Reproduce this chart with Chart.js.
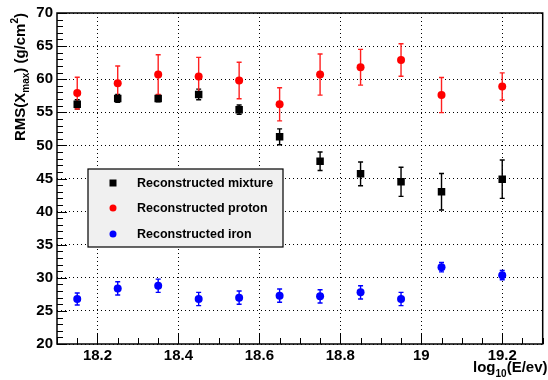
<!DOCTYPE html>
<html>
<head>
<meta charset="utf-8">
<script src="https://cdn.jsdelivr.net/npm/chart.js@4.4.0/dist/chart.umd.min.js"></script>
<style>
html, body { margin: 0; padding: 0; background: #fff; }
canvas { display: block; }
</style>
</head>
<body>
<canvas id="rmsChart" width="548" height="380"></canvas>
<script>
// values
var energies = [18.15, 18.25, 18.35, 18.45, 18.55, 18.65, 18.75, 18.85, 18.95, 19.05, 19.2];
var mixture = [56.2, 57.1, 57.1, 57.7, 55.4, 51.3, 47.6, 45.7, 44.5, 43.0, 44.9];
var mixtureErr = [0.7, 0.6, 0.5, 0.8, 0.7, 1.2, 1.4, 1.8, 2.2, 2.75, 2.9];
var proton = [57.9, 59.4, 60.7, 60.4, 59.8, 56.2, 60.7, 61.8, 62.9, 57.6, 58.9];
var protonErr = [2.4, 2.6, 3.0, 2.9, 2.75, 2.5, 3.1, 2.7, 2.45, 2.65, 2.05];
var iron = [26.8, 28.4, 28.8, 26.8, 27.0, 27.3, 27.2, 27.8, 26.8, 31.6, 30.4];
var ironErr = [0.9, 1.0, 1.0, 1.0, 1.0, 1.0, 1.0, 1.0, 1.0, 0.7, 0.7];
var seriesLabels = ['Reconstructed mixture', 'Reconstructed proton', 'Reconstructed iron'];
var xTicks = [18.2, 18.4, 18.6, 18.8, 19, 19.2];
var yTicks = [20, 25, 30, 35, 40, 45, 50, 55, 60, 65, 70];

var FONT = '"Liberation Sans", Arial, Helvetica, sans-serif';

function points(values) {
    return energies.map(function (e, i) { return { x: e, y: values[i] }; });
}

// error bars, drawn under the markers
var errorBars = {
    id: 'errorBars',
    beforeDatasetsDraw: function (chart) {
        var ctx = chart.ctx;
        var xs = chart.scales.x, ys = chart.scales.y;
        chart.data.datasets.forEach(function (ds) {
            ctx.save();
            ctx.strokeStyle = ds.barColor;
            ctx.lineWidth = 1.4;
            ds.data.forEach(function (p, i) {
                var e = ds.errors[i];
                var x = xs.getPixelForValue(p.x);
                var y1 = ys.getPixelForValue(p.y + e);
                var y2 = ys.getPixelForValue(p.y - e);
                ctx.beginPath();
                ctx.moveTo(x, y1); ctx.lineTo(x, y2);
                ctx.moveTo(x - 2.5, y1); ctx.lineTo(x + 2.5, y1);
                ctx.moveTo(x - 2.5, y2); ctx.lineTo(x + 2.5, y2);
                ctx.stroke();
            });
            ctx.restore();
        });
    }
};

// ROOT style frame, inward ticks, axis titles and legend box
var rootFrame = {
    id: 'rootFrame',
    afterDraw: function (chart) {
        var ctx = chart.ctx;
        var a = chart.chartArea;
        var xs = chart.scales.x, ys = chart.scales.y;
        ctx.save();
        ctx.strokeStyle = '#000';
        ctx.lineWidth = 1;
        ctx.beginPath();
        var v, px, major;
        for (v = 20; v <= 70; v += 1) {
            px = Math.round(ys.getPixelForValue(v)) + 0.5;
            major = v % 5 === 0;
            ctx.moveTo(a.left, px);
            ctx.lineTo(a.left + (major ? 10 : 6), px);
        }
        for (var k = 0; k <= 24; k++) {
            v = 18.1 + k * 0.05;
            px = Math.round(xs.getPixelForValue(v)) + 0.5;
            major = k % 4 === 2;
            ctx.moveTo(px, a.bottom);
            ctx.lineTo(px, a.bottom - (major ? 10 : 6));
        }
        ctx.stroke();

        ctx.lineWidth = 1.5;
        ctx.strokeRect(a.left, a.top, a.right - a.left, a.bottom - a.top);

        // y title
        ctx.fillStyle = '#000';
        ctx.textBaseline = 'alphabetic';
        var big = 'bold 15px ' + FONT, small = 'bold 10px ' + FONT;
        var parts = [['RMS(X', big, 0], ['max', small, 4], [') (g/cm', big, 0], ['2', small, -7], [')', big, 0]];
        var total = 0;
        parts.forEach(function (p) { ctx.font = p[1]; total += ctx.measureText(p[0]).width; });
        ctx.save();
        ctx.translate(24.5, a.top + total);
        ctx.rotate(-Math.PI / 2);
        var cx = 0;
        parts.forEach(function (p) {
            ctx.font = p[1];
            ctx.fillText(p[0], cx, p[2]);
            cx += ctx.measureText(p[0]).width;
        });
        ctx.restore();

        // x title
        var xparts = [['log', big, 0], ['10', small, 5], ['(E/ev)', big, 0]];
        total = 0;
        xparts.forEach(function (p) { ctx.font = p[1]; total += ctx.measureText(p[0]).width; });
        cx = 547.5 - total;
        xparts.forEach(function (p) {
            ctx.font = p[1];
            ctx.fillText(p[0], cx, 372 + p[2]);
            cx += ctx.measureText(p[0]).width;
        });

        // legend
        var lx = a.left + 31, ly = a.top + 156, lw = 195, lh = 78;
        ctx.fillStyle = '#f0f0f0';
        ctx.fillRect(lx, ly, lw, lh);
        ctx.lineWidth = 1.2;
        ctx.strokeRect(lx, ly, lw, lh);
        var rows = [14, 39, 65];
        ctx.font = 'bold 12.5px ' + FONT;
        ctx.textBaseline = 'middle';
        chart.data.datasets.forEach(function (ds, i) {
            var my = ly + rows[i];
            ctx.fillStyle = ds.backgroundColor;
            if (ds.pointStyle === 'rect') {
                ctx.fillRect(lx + 21.5, my - 3.5, 7, 7);
            } else {
                ctx.beginPath();
                ctx.arc(lx + 25, my, 3.5, 0, Math.PI * 2);
                ctx.fill();
            }
            ctx.fillStyle = '#000';
            ctx.fillText(ds.label, lx + 49, my + 0.5);
        });
        ctx.restore();
    }
};

var ctx = document.getElementById('rmsChart');
var rmsChart = new Chart(ctx, {
    type: 'scatter',
    data: {
        datasets: [
            {
                label: seriesLabels[0],
                data: points(mixture),
                errors: mixtureErr,
                barColor: '#000000',
                pointStyle: 'rect',
                pointRadius: 5.3,
                borderWidth: 0,
                backgroundColor: '#000000',
                borderColor: '#000000'
            },
            {
                label: seriesLabels[1],
                data: points(proton),
                errors: protonErr,
                barColor: '#ff2020',
                pointStyle: 'circle',
                pointRadius: 4,
                borderWidth: 0,
                backgroundColor: '#ff0000',
                borderColor: '#ff0000'
            },
            {
                label: seriesLabels[2],
                data: points(iron),
                errors: ironErr,
                barColor: '#0000ff',
                pointStyle: 'circle',
                pointRadius: 4,
                borderWidth: 0,
                backgroundColor: '#0000ff',
                borderColor: '#0000ff'
            }
        ]
    },
    options: {
        responsive: false,
        animation: false,
        events: [],
        layout: { padding: { top: 10, right: 0, left: 0, bottom: 0 } },
        plugins: {
            legend: { display: false },
            tooltip: { enabled: false }
        },
        scales: {
            x: {
                type: 'linear',
                min: 18.1,
                max: 19.3,
                afterBuildTicks: function (s) { s.ticks = xTicks.map(function (v) { return { value: v }; }); },
                afterFit: function (s) { s.height = 36; },
                grid: { color: '#000', lineWidth: 1, drawTicks: false },
                border: { display: false, dash: [1, 3] },
                ticks: {
                    padding: 3,
                    maxRotation: 0,
                    color: '#000',
                    font: { family: FONT, size: 15, weight: 'bold' },
                    callback: function (v) { return String(+v.toFixed(1)); }
                }
            },
            y: {
                min: 20,
                max: 70,
                afterBuildTicks: function (s) { s.ticks = yTicks.map(function (v) { return { value: v }; }); },
                afterFit: function (s) { s.width = 57; },
                grid: { color: '#000', lineWidth: 1, drawTicks: false },
                border: { display: false, dash: [1, 3] },
                ticks: {
                    padding: 4,
                    color: '#000',
                    font: { family: FONT, size: 15, weight: 'bold' }
                }
            }
        }
    },
    plugins: [errorBars, rootFrame]
});
</script>
</body>
</html>
